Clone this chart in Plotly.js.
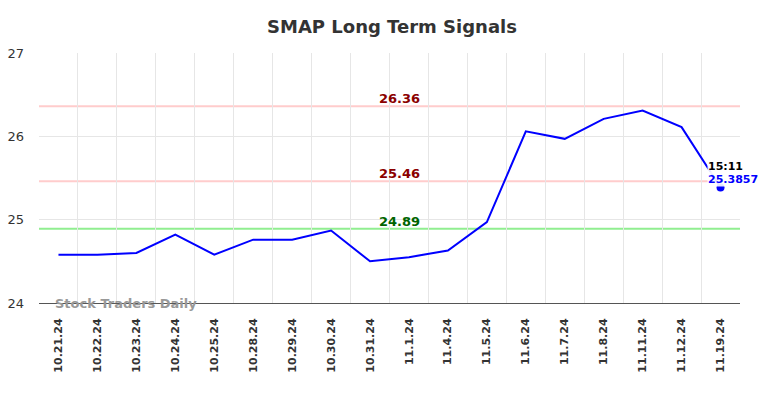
<!DOCTYPE html>
<html>
<head>
<meta charset="utf-8">
<script src="https://cdn.plot.ly/plotly-3.0.1.min.js"></script>
<style>html,body{margin:0;padding:0;background:#fff;}#chart{width:784px;height:398px;}</style>
</head>
<body>
<div id="chart"></div>
<script>
const dates = ["10.21.24","10.22.24","10.23.24","10.24.24","10.25.24","10.28.24","10.29.24","10.30.24","10.31.24","11.1.24","11.4.24","11.5.24","11.6.24","11.7.24","11.8.24","11.11.24","11.12.24","11.19.24"];
const prices = [24.58,24.58,24.60,24.82,24.58,24.76,24.76,24.87,24.50,24.55,24.63,24.97,26.06,25.97,26.21,26.31,26.11,25.3857];
const signalLevels = [26.36, 25.46, 24.89];
const signalLabels = ["26.36", "25.46", "24.89"];
const signalLineColors = ["#ffcccc", "#ffcccc", "#90ee90"];
const signalTextColors = ["#8b0000", "#8b0000", "#006400"];
const lastTime = "15:11";
const lastValue = 25.3857;
const yTicks = [24, 25, 26, 27];

const lastDate = dates[dates.length - 1];
const font = "DejaVu Sans, sans-serif";

const traces = [
  {
    x: dates, y: prices, type: "scatter", mode: "lines",
    line: {color: "#0000ff", width: 2}, showlegend: false
  },
  {
    x: [lastDate], y: [lastValue], type: "scatter", mode: "markers",
    marker: {color: "#0000ff", size: 8}, showlegend: false
  }
];

const shapes = signalLevels.map((lv, i) => ({
  type: "line", xref: "paper", x0: 0, x1: 1, yref: "y", y0: lv, y1: lv,
  line: {color: signalLineColors[i], width: 2}, layer: "below"
}));

const annotations = signalLevels.map((lv, i) => ({
  x: 8.75, y: lv, xref: "x", yref: "y", text: "<b>" + signalLabels[i] + "</b>",
  showarrow: false, yanchor: "bottom", yshift: -2,
  font: {family: font, size: 13, color: signalTextColors[i]}
}));
annotations.push({
  x: lastDate, y: lastValue, xref: "x", yref: "y", text: "<b>" + lastTime + "</b>",
  showarrow: false, xanchor: "left", yanchor: "bottom", xshift: -14, yshift: 14,
  font: {family: font, size: 11, color: "#000"}, bgcolor: "rgba(255,255,255,0.9)", borderpad: 0
});
annotations.push({
  x: lastDate, y: lastValue, xref: "x", yref: "y", text: "<b>" + lastValue + "</b>",
  showarrow: false, xanchor: "left", yanchor: "bottom", xshift: -14, yshift: 1,
  font: {family: font, size: 11, color: "#0000ff"}, bgcolor: "rgba(255,255,255,0.9)", borderpad: 0
});
annotations.push({
  x: 0, y: 0, xref: "paper", yref: "paper", text: "<b>Stock Traders Daily</b>",
  showarrow: false, xanchor: "left", yanchor: "middle", xshift: 14,
  font: {family: font, size: 13, color: "#999999"}
});

const layout = {
  width: 784, height: 398,
  margin: {l: 39, r: 44, t: 53, b: 95},
  paper_bgcolor: "#fff", plot_bgcolor: "#fff",
  title: {text: "<b>SMAP Long Term Signals</b>", x: 0.5, xanchor: "center", y: 0.933, yanchor: "middle",
    font: {family: font, size: 18, color: "#333333"}},
  xaxis: {
    type: "category", categoryorder: "array", categoryarray: dates,
    range: [-0.5, dates.length - 0.5], tickson: "boundaries",
    showgrid: true, gridcolor: "#e6e6e6", gridwidth: 1,
    tickangle: -90, ticks: "", ticklabelstandoff: 10,
    tickfont: {family: font, size: 11, color: "#333333", weight: "bold"},
    showline: true, linecolor: "#555555", linewidth: 1, zeroline: false, fixedrange: true
  },
  yaxis: {
    range: [24, 27], tickvals: yTicks, ticktext: yTicks.map(String),
    showgrid: true, gridcolor: "#e6e6e6", gridwidth: 1,
    ticks: "", ticklabelstandoff: 14, zeroline: false, showline: false,
    tickfont: {family: font, size: 13, color: "#333333"}, fixedrange: true
  },
  shapes: shapes,
  annotations: annotations,
  showlegend: false
};

Plotly.newPlot("chart", traces, layout, {displayModeBar: false, staticPlot: true});
</script>
</body>
</html>
